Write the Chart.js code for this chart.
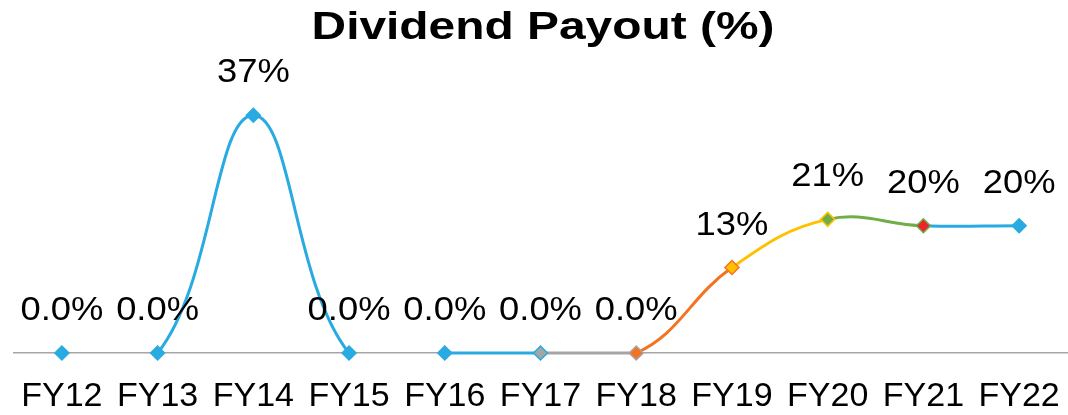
<!DOCTYPE html>
<html>
<head>
<meta charset="utf-8">
<script src="https://cdn.jsdelivr.net/npm/chart.js@4/dist/chart.umd.min.js"></script>
<style>
  html, body { margin: 0; padding: 0; background: #ffffff; }
  #wrap { width: 1068px; height: 415px; position: relative; }
</style>
</head>
<body>
<div id="wrap"><canvas id="c" width="1068" height="415"></canvas></div>
<script>
const chartTitle = 'Dividend Payout (%)';
const categories = ['FY12','FY13','FY14','FY15','FY16','FY17','FY18','FY19','FY20','FY21','FY22'];
const payout = [0, 0, 37.0, 0, 0, 0, 0, 13.3, 20.8, 19.8, 19.8];
const valueLabels = ['0.0%','0.0%','37%','0.0%','0.0%','0.0%','0.0%','13%','21%','20%','20%'];

const BLUE = '#29ABE2', GRAY = '#A5A5A5', ORANGE = '#F47321', GOLD = '#FFC000', GREEN = '#70AD47', RED = '#E8262B';
// colour of segment starting at index i
const segColors = ['rgba(0,0,0,0)', BLUE, BLUE, 'rgba(0,0,0,0)', BLUE, GRAY, ORANGE, GOLD, GREEN, BLUE];
const pointFill = [BLUE, BLUE, BLUE, BLUE, BLUE, GRAY, ORANGE, GOLD, GREEN, RED, BLUE];
const pointEdge = [BLUE, BLUE, BLUE, BLUE, BLUE, BLUE, GRAY, ORANGE, GOLD, GREEN, BLUE];

const FONT = '"Liberation Sans", Arial, Helvetica, sans-serif';

const labelPlugin = {
  id: 'valueLabels',
  afterDatasetsDraw(chart) {
    const ctx = chart.ctx;
    const meta = chart.getDatasetMeta(0);
    ctx.save();
    ctx.fillStyle = '#000000';
    ctx.font = '34px ' + FONT;
    ctx.textAlign = 'center';
    ctx.textBaseline = 'alphabetic';
    meta.data.forEach((pt, i) => {
      ctx.save();
      ctx.translate(pt.x, pt.y - 33);
      ctx.scale(1.07, 1);
      ctx.fillText(valueLabels[i], 0, 0);
      ctx.restore();
    });
    ctx.restore();
  }
};

const titlePlugin = {
  id: 'scaledTitle',
  afterDraw(chart) {
    const ctx = chart.ctx;
    ctx.save();
    ctx.fillStyle = '#000000';
    ctx.font = 'bold 38px ' + FONT;
    ctx.textAlign = 'center';
    ctx.textBaseline = 'alphabetic';
    ctx.translate(543, 39);
    ctx.scale(1.26, 1);
    ctx.fillText(chartTitle, 0, 0);
    ctx.restore();
  }
};

new Chart(document.getElementById('c'), {
  type: 'line',
  data: {
    labels: categories,
    datasets: [{
      data: payout,
      borderWidth: 3,
      tension: 0.4,
      clip: false,
      pointStyle: 'rectRot',
      pointRadius: 7,
      pointHoverRadius: 7,
      pointBorderWidth: 1.5,
      pointBackgroundColor: pointFill,
      pointBorderColor: pointEdge,
      borderColor: BLUE,
      segment: {
        borderColor: c => segColors[c.p0DataIndex]
      }
    }]
  },
  options: {
    responsive: false,
    animation: false,
    events: [],
    layout: { autoPadding: false, padding: { left: 14, right: 1, top: 96, bottom: 0 } },
    plugins: {
      legend: { display: false },
      title: { display: false, text: chartTitle },
      tooltip: { enabled: false }
    },
    scales: {
      x: {
        offset: true,
        grid: { display: false, drawTicks: false },
        border: { display: true, color: '#A6A6A6', width: 1.5 },
        ticks: {
          color: '#000000',
          font: { family: FONT, size: 34 },
          padding: 23,
          maxRotation: 0,
          autoSkip: false
        },
        afterFit: s => { s.height = 62; s.paddingLeft = 0; s.paddingRight = 0; }
      },
      y: {
        display: false,
        min: 0,
        max: 40
      }
    }
  },
  plugins: [labelPlugin, titlePlugin]
});
</script>
</body>
</html>
